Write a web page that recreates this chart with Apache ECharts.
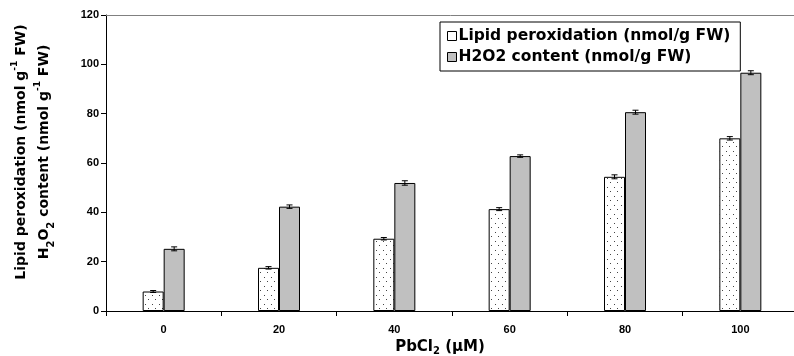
<!DOCTYPE html>
<html>
<head>
<meta charset="utf-8">
<script src="https://cdn.jsdelivr.net/npm/echarts@6/dist/echarts.min.js"></script>
<style>html,body{margin:0;padding:0;background:#fff}#c{width:794px;height:356px}</style>
</head>
<body>
<div id="c"></div>
<script>
var categories = ['0', '20', '40', '60', '80', '100'];
var lipid = [7.9, 17.5, 29.3, 41.3, 54.4, 70.0];
var lipidErr = [0.4, 0.5, 0.5, 0.6, 0.8, 0.7];
var h2o2 = [25.2, 42.3, 51.9, 62.8, 80.6, 96.6];
var h2o2Err = [0.8, 0.7, 0.9, 0.5, 0.8, 0.8];
var yTicks = [0, 20, 40, 60, 80, 100, 120];

var pc = document.createElement('canvas');
pc.width = 7; pc.height = 9;
var g = pc.getContext('2d');
g.fillStyle = '#fff'; g.fillRect(0, 0, 7, 9);
g.fillStyle = '#444';
g.fillRect(1, 2, 1, 1);
g.fillRect(5, 7, 1, 1);
var dotted = { image: pc, repeat: 'repeat' };

var font = 'Liberation Sans, Arial, sans-serif';
var wide = 'DejaVu Sans, sans-serif';
var chart = echarts.init(document.getElementById('c'), null, { renderer: 'canvas' });

function errSeries(vals, errs, offset) {
  return {
    type: 'custom',
    z: 10,
    silent: true,
    data: vals.map(function (v, i) { return [i, v, errs[i]]; }),
    renderItem: function (params, api) {
      var i = api.value(0), v = api.value(1), e = api.value(2);
      var p = api.coord([i, v]);
      var x = p[0] + offset;
      var hi = api.coord([i, v + e])[1];
      var lo = api.coord([i, v - e])[1];
      var st = { stroke: '#000', lineWidth: 1 };
      return {
        type: 'group',
        children: [
          { type: 'line', shape: { x1: x, y1: hi, x2: x, y2: lo }, style: st },
          { type: 'line', shape: { x1: x - 3, y1: hi, x2: x + 3, y2: hi }, style: st },
          { type: 'line', shape: { x1: x - 3, y1: lo, x2: x + 3, y2: lo }, style: st }
        ]
      };
    }
  };
}

chart.setOption({
  animation: false,
  backgroundColor: '#fff',
  textStyle: { fontFamily: font },
  grid: { left: 106, top: 15, width: 692, height: 296, containLabel: false, outerBoundsMode: 'none' },
  legend: {
    orient: 'vertical',
    left: 440,
    top: 22,
    padding: [6, 10, 6, 7],
    itemGap: 5,
    itemWidth: 9,
    itemHeight: 9,
    borderColor: '#000',
    borderWidth: 1,
    textStyle: { fontFamily: wide, fontWeight: 'bold', fontSize: 15.5, color: '#000', padding: [0, 0, 0, -3] },
    data: [
      { name: 'Lipid peroxidation (nmol/g FW)', icon: 'rect', itemStyle: { color: '#fff', borderColor: '#000', borderWidth: 1 } },
      { name: 'H2O2 content (nmol/g FW)', icon: 'rect', itemStyle: { color: '#c0c0c0', borderColor: '#000', borderWidth: 1 } }
    ]
  },
  xAxis: [{
    type: 'category',
    data: categories,
    position: 'bottom',
    axisLine: { lineStyle: { color: '#000', width: 1 } },
    axisTick: { show: true, alignWithLabel: false, interval: 0, length: 5, lineStyle: { color: '#000' } },
    axisLabel: { color: '#000', fontWeight: 'bold', fontSize: 11, margin: 13, fontFamily: font },
    name: '{b|PbCl}{s|2}{b| (µM)}',
    nameLocation: 'middle',
    nameGap: 24,
    nameTextStyle: {
      padding: [0, 24, 0, 0],
      rich: {
        b: { fontSize: 15, fontWeight: 'bold', color: '#000', fontFamily: wide },
        s: { fontSize: 10, fontWeight: 'bold', color: '#000', fontFamily: wide, verticalAlign: 'bottom', padding: [8, 0, 0, 0] }
      }
    }
  }, {
    type: 'category',
    data: categories,
    position: 'top',
    axisLine: { lineStyle: { color: '#808080', width: 1 } },
    axisTick: { show: false },
    axisLabel: { show: false }
  }],
  yAxis: {
    type: 'value',
    min: 0,
    max: 120,
    interval: 20,
    axisLine: { show: true, lineStyle: { color: '#000', width: 1 } },
    axisTick: { show: true, length: 5, lineStyle: { color: '#000' } },
    splitLine: { show: false },
    axisLabel: { color: '#000', fontWeight: 'bold', fontSize: 11, margin: 7, fontFamily: font,
      formatter: function (v) { return yTicks.indexOf(v) >= 0 ? String(v) : ''; } },
    name: '{a|Lipid peroxidation (nmol g}{p|-1}{a| FW)}\n{a|H}{s|2}{a|O}{s|2}{a| content (nmol g}{p|-1}{a| FW)}',
    nameLocation: 'middle',
    nameRotate: 90,
    nameGap: 50,
    nameTextStyle: {
      align: 'center',
      lineHeight: 23,
      padding: [0, 0, 0, 22],
      rich: {
        a: { fontSize: 14, fontWeight: 'bold', color: '#000', fontFamily: wide, lineHeight: 23 },
        p: { fontSize: 9, fontWeight: 'bold', color: '#000', fontFamily: wide, verticalAlign: 'top', padding: [0, 0, 9, 0], lineHeight: 23 },
        s: { fontSize: 10, fontWeight: 'bold', color: '#000', fontFamily: wide, verticalAlign: 'bottom', padding: [8, 0, 0, 0], lineHeight: 23 }
      }
    }
  },
  series: [
    {
      name: 'Lipid peroxidation (nmol/g FW)',
      type: 'bar',
      data: lipid,
      barWidth: 21,
      barGap: '0%',
      itemStyle: { color: dotted, borderColor: '#000', borderWidth: 1 }
    },
    {
      name: 'H2O2 content (nmol/g FW)',
      type: 'bar',
      data: h2o2,
      barWidth: 21,
      barGap: '0%',
      itemStyle: { color: '#c0c0c0', borderColor: '#000', borderWidth: 1 }
    },
    errSeries(lipid, lipidErr, -10.5),
    errSeries(h2o2, h2o2Err, 10.5)
  ]
});
</script>
</body>
</html>
